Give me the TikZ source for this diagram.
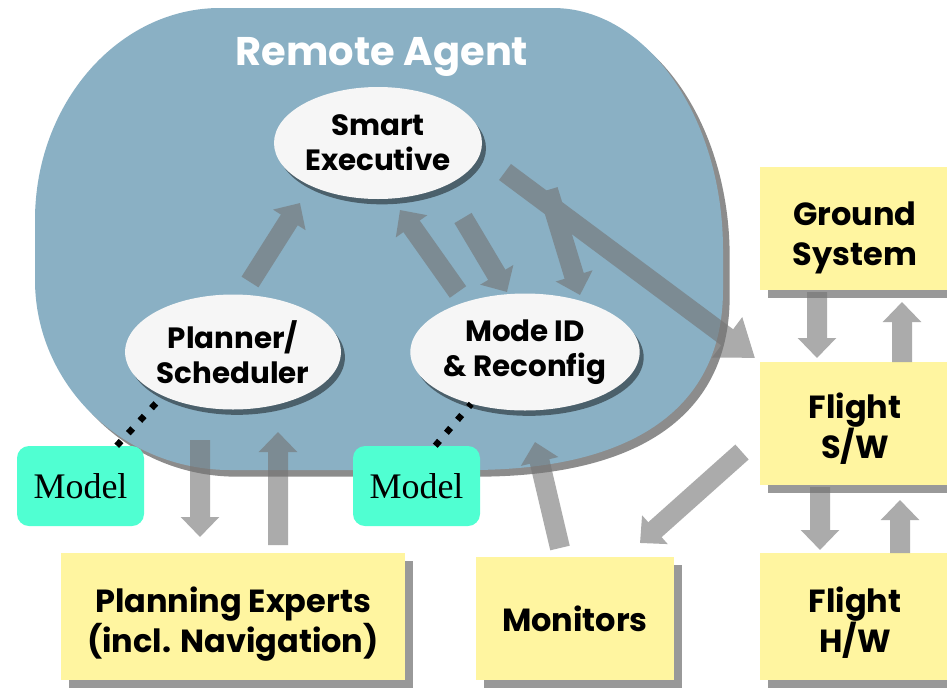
\documentclass[tikz,border=0pt]{standalone}
\usepackage{fontspec}
\newfontfamily\popf{Poppins}
\newfontfamily\timf{Liberation Serif}
\usetikzlibrary{arrows.meta,shapes.geometric,shadows}
\definecolor{blobblue}{RGB}{138,176,196}
\definecolor{boxyellow}{RGB}{255,245,160}
\definecolor{modelcyan}{RGB}{80,255,210}
\definecolor{ellfill}{RGB}{246,246,246}
\definecolor{arrowgray}{RGB}{115,115,115}
\begin{document}
\begin{tikzpicture}[x=0.75pt,y=-0.75pt,
  ell/.style={ellipse, fill=ellfill, inner sep=0pt, align=center,
    font=\popf\bfseries\fontsize{22}{26}\selectfont,
    drop shadow={shadow xshift=3pt, shadow yshift=-4pt, fill=black, opacity=0.45}},
  ybox/.style={rectangle, fill=boxyellow, inner sep=0pt, align=center,
    font=\popf\bfseries\fontsize{24}{30}\selectfont,
    drop shadow={shadow xshift=6pt, shadow yshift=-6pt, fill=black, opacity=0.4}},
  mbox/.style={rectangle, rounded corners=9pt, fill=modelcyan, inner sep=0pt,
    font=\timf\fontsize{27}{30}\selectfont},
  garrow/.style={draw=arrowgray, fill=arrowgray, line width=15pt,
    -{Triangle[width=28pt,length=15pt]}},
  bighead/.style={-{Triangle[width=36pt,length=26pt]}},
  dotlink/.style={draw=black, line width=4.8pt, dash pattern=on 4.8pt off 8pt},
  titlefont/.style={font=\popf\bfseries\fontsize{30}{36}\selectfont, anchor=base, inner sep=0pt}
]
\useasboundingbox (0,0) rectangle (947,690);
\clip (0,0) rectangle (947,690);
\fill[white] (0,0) rectangle (947,690);

% Remote Agent blob
\path[fill=blobblue, drop shadow={shadow xshift=5pt, shadow yshift=-5pt, fill=black, opacity=0.45}]
  (35,220) .. controls (35,103.4) and (118.25,8) .. (220,8)
  -- (553,8) .. controls (646.5,8) and (723,116.9) .. (723,250)
  -- (723,290) .. controls (723,407) and (634.5,470) .. (470,470)
  -- (230,470) .. controls (122.75,470) and (35,384.5) .. (35,280) -- cycle;

\node[titlefont, text=white] (title) at (382,65) {Remote Agent};

% ellipses
\node[ell, minimum width=208*0.75pt, minimum height=112*0.75pt] (exec) at (378,143) {Smart\\Executive};
\node[ell, minimum width=205*0.75pt, minimum height=115*0.75pt] (planner) at (233,352) {Planner/\\Scheduler};
\node[ell, minimum width=200*0.75pt, minimum height=117*0.75pt] (modeid) at (525,352) {Mode ID\\\& Reconfig};

% yellow boxes
\node[ybox, minimum width=190*0.75pt, minimum height=123*0.75pt] (ground) at (855,228.5) {\rule{0pt}{32pt}Ground\\System};
\node[ybox, minimum width=190*0.75pt, minimum height=123*0.75pt] (flightsw) at (855,423.5) {\rule{0pt}{27pt}Flight\\S/W};
\node[ybox, minimum width=190*0.75pt, minimum height=127*0.75pt] (flighthw) at (855,616.5) {\rule{0pt}{29pt}Flight\\H/W};
\node[ybox, minimum width=198*0.75pt, minimum height=123*0.75pt] (monitors) at (575,618.5) {Monitors};
\node[ybox, minimum width=344*0.75pt, minimum height=127*0.75pt] (planexp) at (233,616.5) {\rule{0pt}{31pt}Planning Experts\\(incl. Navigation)};

% model boxes
\node[mbox, minimum width=127*0.75pt, minimum height=80*0.75pt] (modelL) at (80.5,486) {Model};
\node[mbox, minimum width=127*0.75pt, minimum height=80*0.75pt] (modelR) at (416.5,486) {Model};

% dotted links
\draw[dotlink] (modelL.48) -- (planner.212);
\draw[dotlink] (modelR.65) -- (modeid.224);

% gray arrows
\begin{scope}[transparency group, opacity=0.6]
\draw[garrow] ([shift={(17,-70)}]planner.center) -- ([shift={(-78,60)}]exec.center);
\draw[garrow] ([shift={(-67,-60)}]modeid.center) -- ([shift={(22,67)}]exec.center);
\draw[garrow] ([shift={(85,75)}]exec.center) -- ([shift={(-18,-60)}]modeid.center);
\draw[garrow] ([shift={(170,47)}]exec.center) -- ([shift={(55,-57)}]modeid.center);
\draw[garrow, bighead] ([shift={(127,29)}]exec.center) -- ([shift={(-100,-65.5)}]flightsw.center);
\draw[garrow] ([shift={(-38,63.5)}]ground.center) -- ([shift={(-38,-65.5)}]flightsw.center);
\draw[garrow] ([shift={(47,-61.5)}]flightsw.center) -- ([shift={(47,73.5)}]ground.center);
\draw[garrow] ([shift={(-35,63.5)}]flightsw.center) -- ([shift={(-35,-66.5)}]flighthw.center);
\draw[garrow] ([shift={(45,-63.5)}]flighthw.center) -- ([shift={(45,76.5)}]flightsw.center);
\draw[garrow] ([shift={(-113,28.5)}]flightsw.center) -- ([shift={(65,-75.5)}]monitors.center);
\draw[garrow] ([shift={(-15,-70.5)}]monitors.center) -- ([shift={(10,90)}]modeid.center);
\draw[garrow] ([shift={(-33,88)}]planner.center) -- ([shift={(-33,-79.5)}]planexp.center);
\draw[garrow] ([shift={(45,-71.5)}]planexp.center) -- ([shift={(45,80)}]planner.center);
\end{scope}
\end{tikzpicture}
\end{document}
